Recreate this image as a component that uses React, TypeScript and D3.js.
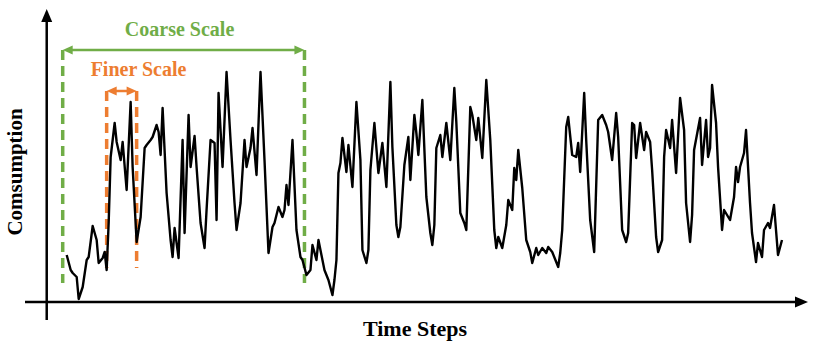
import React, { useRef, useEffect } from 'react';
import * as d3 from 'd3';

// time step index and consumption reading
const timeSteps = [
  0, 2, 3, 5, 6, 8, 10, 11, 13, 15, 16, 18, 19, 20, 21, 22, 24, 25, 27, 28, 30, 32, 33, 35, 37, 39, 40, 42, 43, 45,
  46, 47, 48, 50, 52, 53, 54, 56, 58, 59, 61, 62, 64, 65, 67, 69, 70, 72, 74, 75, 76, 78, 80, 82, 84, 85, 87, 89, 90,
  92, 93, 95, 97, 99, 101, 103, 104, 106, 108, 109, 110, 111, 113, 115, 117, 118, 120, 122, 123, 125, 126, 128, 129,
  131, 133, 134, 135, 136, 137, 138, 140, 141, 143, 145, 147, 148, 150, 151, 152, 154, 156, 158, 160, 162, 163, 165,
  166, 167, 169, 171, 172, 174, 175, 176, 178, 180, 182, 183, 184, 185, 187, 188, 190, 192, 194, 195, 197, 199, 200,
  202, 203, 205, 206, 208, 210, 212, 214, 215, 216, 218, 220, 221, 223, 224, 225, 226, 228, 230, 232, 233, 235, 236,
  238, 240, 241, 243, 245, 246, 247, 248, 250, 251, 253, 255, 256, 257, 259, 260, 262, 264, 266, 268, 270, 271, 273,
  275, 276, 278, 280, 281, 283, 284, 285, 287, 289, 290, 292, 293, 295, 296, 298, 299, 300, 302, 303, 305, 307, 309,
  310, 312, 313, 314, 317, 318, 320, 321, 322, 323, 325, 326, 328, 329, 332, 334, 335, 336, 337, 339, 340, 342, 343,
  345, 346, 348, 349, 351, 352, 354, 355, 356, 358,
];

const consumption = [
  47, 32, 29, 25, 3, 15, 42, 45, 76, 62, 39, 44, 50, 32, 79, 145, 179, 160, 142, 160, 112, 200, 135, 60, 85, 154, 157,
  162, 165, 177, 170, 147, 194, 109, 62, 45, 74, 44, 162, 69, 187, 135, 166, 135, 79, 54, 92, 162, 159, 82, 209, 135,
  230, 162, 99, 72, 99, 162, 135, 154, 174, 127, 230, 142, 49, 75, 79, 95, 85, 92, 117, 97, 162, 72, 45, 42, 27, 32,
  57, 42, 62, 42, 32, 22, 7, 22, 42, 129, 139, 164, 130, 157, 115, 200, 142, 52, 39, 52, 132, 179, 129, 159, 115, 220,
  155, 77, 65, 75, 137, 165, 122, 187, 169, 147, 202, 105, 69, 57, 77, 154, 167, 145, 179, 142, 214, 180, 89, 79, 72,
  195, 187, 162, 184, 144, 222, 162, 72, 54, 65, 54, 77, 102, 92, 134, 122, 152, 114, 62, 50, 39, 54, 47, 54, 49, 55,
  50, 40, 35, 49, 72, 175, 185, 147, 145, 159, 130, 209, 162, 82, 50, 182, 187, 177, 170, 142, 189, 165, 72, 60, 69,
  179, 177, 144, 179, 152, 170, 160, 132, 65, 50, 62, 145, 172, 154, 182, 129, 204, 172, 99, 60, 87, 152, 184, 137,
  182, 145, 154, 217, 179, 135, 72, 92, 82, 105, 135, 120, 135, 149, 172, 99, 69, 40, 59, 45, 72, 79, 74, 97, 72, 47,
  62,
];

// highlighted windows: [first step, last step], [bottom, top] in consumption units
const coarseSteps = [-2, 119];
const coarseLevels = [19, 252];
const finerSteps = [20, 35];
const finerLevels = [34, 211];

const GREEN = '#70ad47';
const ORANGE = '#ed7d31';
const FONT = '"Liberation Serif", "Times New Roman", serif';

const ScaleChart = () => {
  const svgRef = useRef(null);
  useEffect(() => {
    d3.select(svgRef.current).selectAll('*').remove();
    const svg = d3.select(svgRef.current);

    const x = d3.scaleLinear().domain([0, 358]).range([66.7, 782]);
    const y = d3.scaleLinear().domain([0, 290]).range([302, 12]);

    const arrowHead = (tx, ty, dir, len, half, color) => {
      // dir: 'up' | 'right' | 'left'
      let pts;
      if (dir === 'up') pts = [[tx, ty], [tx - half, ty + len], [tx + half, ty + len]];
      else if (dir === 'right') pts = [[tx, ty], [tx - len, ty - half], [tx - len, ty + half]];
      else pts = [[tx, ty], [tx + len, ty - half], [tx + len, ty + half]];
      svg.append('path').attr('d', 'M' + pts.join('L') + 'Z').attr('fill', color);
    };

    // axes
    const x0 = x(-10);
    svg.append('line').attr('x1', 25).attr('x2', 798).attr('y1', y(0)).attr('y2', y(0))
      .attr('stroke', 'black').attr('stroke-width', 2.5);
    arrowHead(808, y(0), 'right', 13, 5.5, 'black');
    svg.append('line').attr('x1', x0).attr('x2', x0).attr('y1', 320).attr('y2', 20)
      .attr('stroke', 'black').attr('stroke-width', 2.5);
    arrowHead(x0, 9, 'up', 13, 5.5, 'black');

    // window guides
    const windowBox = (steps, levels, color) => {
      steps.forEach((s) => {
        svg.append('line').attr('x1', x(s)).attr('x2', x(s))
          .attr('y1', y(levels[1])).attr('y2', y(levels[0]))
          .attr('stroke', color).attr('stroke-width', 3.5)
          .attr('stroke-dasharray', '10,6');
      });
      const yy = y(levels[1]);
      svg.append('line').attr('x1', x(steps[0]) + 6).attr('x2', x(steps[1]) - 6)
        .attr('y1', yy).attr('y2', yy).attr('stroke', color).attr('stroke-width', 2.5);
      arrowHead(x(steps[0]), yy, 'left', 10, 4.5, color);
      arrowHead(x(steps[1]), yy, 'right', 10, 4.5, color);
    };
    windowBox(coarseSteps, coarseLevels, GREEN);
    windowBox(finerSteps, finerLevels, ORANGE);

    // series
    const pts = timeSteps.map((t, i) => [t, consumption[i]]);
    const line = d3.line().x((d) => x(d[0])).y((d) => y(d[1]));
    svg.append('path').datum(pts).attr('d', line).attr('fill', 'none')
      .attr('stroke', 'black').attr('stroke-width', 2.4).attr('stroke-linejoin', 'round');

    // labels
    svg.append('text').text('Coarse Scale')
      .attr('x', (x(coarseSteps[0]) + x(coarseSteps[1])) / 2 - 4).attr('y', 36)
      .attr('text-anchor', 'middle').attr('font-family', FONT).attr('font-weight', 'bold')
      .attr('font-size', 20).attr('fill', GREEN);
    svg.append('text').text('Finer Scale')
      .attr('x', 138.5).attr('y', 76)
      .attr('text-anchor', 'middle').attr('font-family', FONT).attr('font-weight', 'bold')
      .attr('font-size', 20).attr('fill', ORANGE);
    svg.append('text').text('Time Steps')
      .attr('x', 415).attr('y', 336)
      .attr('text-anchor', 'middle').attr('font-family', FONT).attr('font-weight', 'bold')
      .attr('font-size', 22).attr('fill', 'black');
    svg.append('text').text('Comsumption')
      .attr('transform', 'translate(22,172) rotate(-90)')
      .attr('text-anchor', 'middle').attr('font-family', FONT).attr('font-weight', 'bold')
      .attr('font-size', 21).attr('fill', 'black');
  }, []);

  return (
    <svg ref={svgRef} width={814} height={348}
      style={{ position: 'absolute', left: 0, top: 0, background: 'white' }} />
  );
};

export default function App() {
  return <ScaleChart />;
}
